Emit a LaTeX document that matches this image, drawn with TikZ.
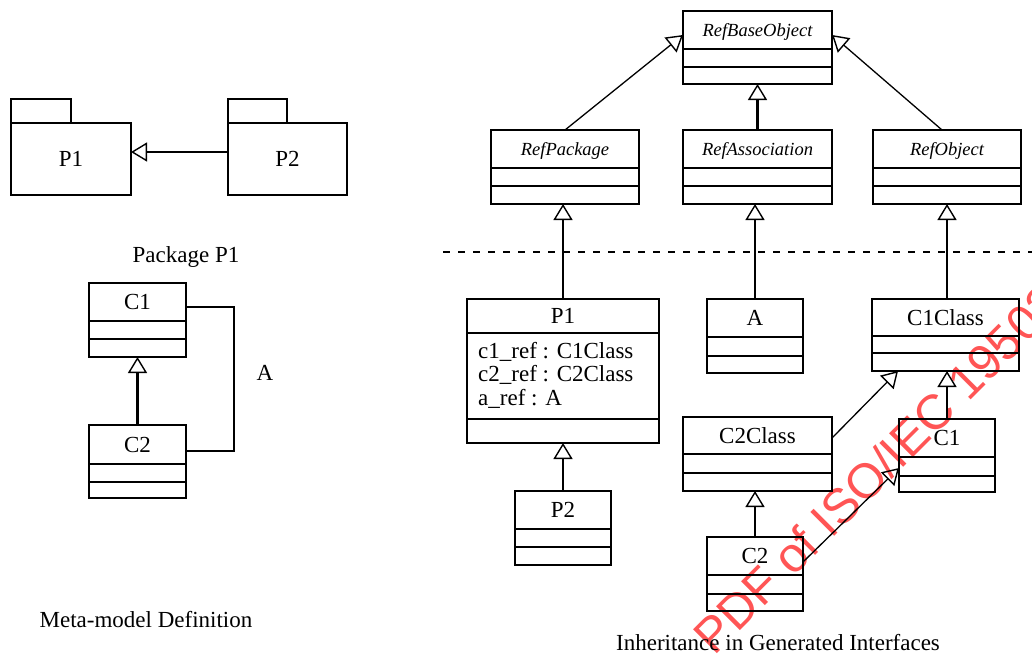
\documentclass[tikz,border=0pt]{standalone}
\usepackage{fontspec}
\setmainfont{Liberation Serif}
\newfontfamily\wmfont{Liberation Sans}
\usetikzlibrary{arrows.meta}
\newcommand\umlclass[9]{%
  \node[box, minimum width={#4-#2}, minimum height={#5-#3}, anchor=north west] (#1) at (#2,#3) {};
  \draw[boxline] (#2,#6) -- (#4,#6);
  \draw[boxline] (#2,#7) -- (#4,#7);
  \node[#9] (#1-t) at ({(#2+#4)/2},{(#3+#6)/2}) {#8};
}
\begin{document}
\begin{tikzpicture}[x=1pt,y=-1pt,
  box/.style={draw, line width=2.4pt, inner sep=0pt, outer sep=0pt},
  boxline/.style={line width=2.4pt},
  lbl/.style={font=\fontsize{23}{27}\selectfont, inner sep=0pt, text height=15pt, text depth=0pt},
  ilbl/.style={font=\fontsize{18.5}{22}\selectfont\itshape, inner sep=0pt, text height=12pt, text depth=0pt},
  txt/.style={font=\fontsize{23}{27}\selectfont, inner sep=0pt},
  gen/.style={line width=2.4pt, -{Triangle[open,length=16pt,width=19pt,line width=1.4pt]}},
  gendiag/.style={line width=1.3pt, -{Triangle[open,length=16pt,width=19pt,line width=1.4pt]}},
  dashline/.style={line width=2.2pt, dash pattern=on 6.5pt off 8.5pt}]
\useasboundingbox (0,0) rectangle (1032,656);
% watermark
\begin{scope}
\clip (0,0) rectangle (1032,656);
\node[font=\wmfont\fontsize{49}{50}\selectfont, text={rgb,255:red,255;green,85;blue,85}, rotate=45, anchor=base west, inner sep=0pt] (wm) at (714,657) {PDF of ISO/IEC 19502};
\end{scope}
% ---------- left: packages ----------
\node[box, minimum width=60, minimum height=24, anchor=north west] (p1tab) at (11,99) {};
\node[box, minimum width=120, minimum height=72, anchor=north west] (p1pkg) at (11,123) {};
\node[lbl] (p1pkg-t) at (71,159) {P1};
\node[box, minimum width=59, minimum height=24, anchor=north west] (p2tab) at (228,99) {};
\node[box, minimum width=119, minimum height=72, anchor=north west] (p2pkg) at (228,123) {};
\node[lbl] (p2pkg-t) at (287.5,159) {P2};
\draw[gen] (p2pkg.west |- 0,152) -- (p1pkg.east |- 0,152);
% ---------- left: Package P1 ----------
\node[lbl] (pkgcap) at (186,255) {Package P1};
\umlclass{c1m}{89}{283}{186}{357}{321}{339}{C1}{lbl}
\umlclass{c2m}{89}{425}{186}{498}{464}{482}{C2}{lbl}
\draw[gen] (c2m.north) -- (c1m.south);
\draw[boxline] (c1m.east |- 0,307) -- (234,307) |- (c2m.east |- 0,451);
\node[lbl] (alabel) at (265,373) {A};
\node[lbl] (metacap) at (146,620) {Meta-model Definition};
% ---------- right: base interfaces ----------
\umlclass{refbase}{683}{11}{832}{84}{49}{67}{RefBaseObject}{ilbl}
\umlclass{refpkg}{491}{130}{639}{204}{168}{186}{RefPackage}{ilbl}
\umlclass{refassoc}{683}{130}{832}{204}{168}{186}{RefAssociation}{ilbl}
\umlclass{refobj}{873}{130}{1021}{204}{168}{186}{RefObject}{ilbl}
\draw[gendiag] (refpkg.north) -- (refbase.west |- 0,35);
\draw[gen] (refassoc.north) -- (refbase.south);
\draw[gendiag] (refobj.north -| 942,0) -- (refbase.east |- 0,35);
\coordinate (dl) at (443,252);
\coordinate (dr) at (1032,252);
\draw[dashline] (dl) -- (dr);
% ---------- right: generated ----------
\umlclass{p1r}{467}{299}{659}{443}{333}{419}{P1}{lbl}
\node[txt, anchor=base west] (attr1) at (478,358) {c1\_ref : C1Class};
\node[txt, anchor=base west] (attr2) at (478,381.5) {c2\_ref : C2Class};
\node[txt, anchor=base west] (attr3) at (478,405) {a\_ref : A};
\umlclass{p2r}{515}{491}{611}{565}{529}{547}{P2}{lbl}
\umlclass{ar}{707}{299}{803}{373}{337}{356}{A}{lbl}
\umlclass{c1cls}{872}{299}{1019}{371}{336}{353}{C1Class}{lbl}
\umlclass{c2cls}{683}{417}{832}{491}{454}{473}{C2Class}{lbl}
\umlclass{c1r}{899}{419}{995}{492}{457}{476}{C1}{lbl}
\umlclass{c2r}{707}{537}{803}{611}{575}{594}{C2}{lbl}
\draw[gen] (p1r.north) -- (p1r.north |- refpkg.south);
\draw[gen] (p2r.north) -- (p1r.south);
\draw[gen] (ar.north) -- (ar.north |- refassoc.south);
\draw[gen] (c1cls.north -| refobj.south) -- (refobj.south);
\draw[gendiag] (c2cls.east |- 0,438) -- (c1cls.south -| 898,0);
\draw[gen] (c1r.north) -- (c1r.north |- c1cls.south);
\draw[gen] (c2r.north) -- (c2r.north |- c2cls.south);
\draw[gendiag] (c2r.east |- 0,562) -- (c1r.west |- 0,468);
\node[lbl] (inhcap) at (778,643) {Inheritance in Generated Interfaces};
\end{tikzpicture}
\end{document}
